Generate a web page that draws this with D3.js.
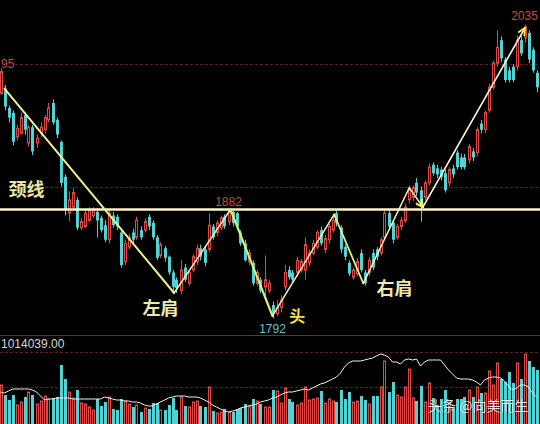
<!DOCTYPE html>
<html>
<head>
<meta charset="utf-8">
<script src="https://cdn.jsdelivr.net/npm/d3@7"></script>
<style>
  html, body { margin: 0; padding: 0; background: #000; overflow: hidden; }
  svg { display: block; }
</style>
</head>
<body>
<svg id="chart" width="540" height="424"></svg>
<script>
// ---- daily OHLC ----
const opens = [
  1978,1982,1966,1962,1942,1945,1960,1937,1950,1937,
  1945,1948,1956,1970,1956,1938,1909,1879,1884,1890,
  1867,1868,1873,1877,1880,1875,1869,1857,1877,1876,
  1863,1839,1851,1863,1859,1865,1865,1876,1871,1859,
  1844,1850,1843,1830,1824,1815,1834,1821,1832,1839,
  1850,1849,1849,1868,1863,1867,1876,1872,1880,1879,
  1863,1854,1839,1838,1821,1824,1818,1815,1803,1796,
  1801,1818,1832,1830,1830,1832,1832,1838,1846,1851,
  1865,1849,1857,1865,1879,1867,1851,1838,1826,1829,
  1846,1830,1830,1846,1849,1846,1859,1879,1871,1859,
  1868,1873,1890,1892,1904,1898,1892,1904,1919,1916,
  1915,1912,1904,1916,1929,1925,1925,1923,1930,1929,
  1953,1948,1964,1983,2003,2022,2006,1997,2000,2000,
  2022,2024,2028,2014,1995
];
const closes = [
  1996,1967,1958,1938,1949,1958,1948,1950,1930,1941,
  1950,1958,1966,1954,1944,1904,1882,1890,1896,1867,
  1872,1879,1882,1882,1873,1865,1857,1879,1869,1868,
  1836,1854,1859,1857,1873,1859,1872,1868,1859,1842,
  1853,1842,1830,1818,1817,1832,1824,1830,1843,1850,
  1843,1838,1869,1859,1871,1875,1868,1880,1871,1868,
  1854,1840,1846,1821,1830,1815,1824,1821,1796,1801,
  1807,1830,1826,1824,1840,1839,1853,1846,1854,1863,
  1854,1858,1868,1873,1871,1849,1843,1829,1832,1839,
  1832,1821,1840,1834,1843,1857,1879,1868,1857,1868,
  1873,1884,1898,1900,1896,1886,1904,1917,1912,1911,
  1909,1898,1915,1911,1917,1917,1917,1934,1925,1948,
  1948,1962,1983,2003,2016,2007,1989,1989,1989,2022,
  2011,2033,2006,1997,1983
];
const highs = [
  1999,1985,1968,1964,1952,1962,1962,1952,1952,1944,
  1954,1960,1970,1973,1958,1939,1911,1897,1900,1892,
  1875,1882,1884,1884,1883,1877,1873,1882,1880,1878,
  1865,1857,1862,1866,1876,1868,1875,1878,1873,1861,
  1855,1852,1844,1832,1826,1840,1837,1832,1845,1853,
  1853,1851,1879,1870,1873,1877,1878,1882,1881,1880,
  1865,1857,1849,1840,1832,1826,1844,1824,1806,1807,
  1811,1836,1835,1832,1843,1841,1859,1849,1857,1865,
  1868,1861,1870,1877,1881,1869,1853,1840,1834,1842,
  1849,1832,1843,1849,1851,1859,1882,1882,1873,1870,
  1876,1887,1902,1902,1908,1901,1906,1920,1921,1919,
  1917,1915,1917,1919,1931,1928,1928,1936,1933,1950,
  1956,1964,1986,2005,2030,2025,2008,2000,2002,2026,
  2026,2035,2030,2016,1997
];
const lows = [
  1977,1964,1954,1935,1939,1944,1944,1934,1927,1933,
  1942,1945,1954,1952,1941,1901,1877,1872,1882,1865,
  1865,1867,1872,1875,1859,1863,1855,1854,1867,1865,
  1834,1836,1849,1854,1857,1857,1863,1865,1857,1840,
  1842,1839,1828,1814,1813,1812,1822,1819,1830,1836,
  1840,1835,1847,1857,1860,1865,1866,1869,1868,1865,
  1852,1839,1836,1819,1819,1813,1807,1813,1792,1794,
  1797,1815,1824,1821,1827,1830,1824,1835,1844,1849,
  1852,1846,1854,1863,1868,1846,1840,1827,1824,1827,
  1830,1819,1827,1832,1840,1844,1857,1865,1854,1857,
  1865,1871,1887,1889,1893,1872,1890,1902,1910,1908,
  1906,1896,1901,1908,1915,1915,1915,1920,1922,1926,
  1945,1945,1962,1981,2000,2004,1987,1987,1987,1997,
  2009,2020,2003,1995,1979
];

// ---- volume and its average line ----
const volumes = [
  390000,290000,240000,290000,190000,220000,270000,320000,290000,200000,
  230000,280000,250000,260000,270000,590000,450000,320000,260000,340000,
  210000,200000,170000,140000,250000,180000,220000,270000,150000,140000,
  250000,230000,200000,170000,190000,120000,160000,150000,210000,210000,
  140000,140000,190000,260000,140000,270000,180000,170000,220000,230000,
  180000,170000,370000,130000,110000,120000,150000,120000,120000,150000,
  160000,200000,180000,250000,230000,200000,170000,170000,340000,330000,
  210000,360000,250000,220000,190000,210000,370000,240000,250000,260000,
  330000,210000,250000,230000,220000,340000,250000,320000,220000,230000,
  280000,240000,200000,280000,280000,370000,630000,320000,420000,290000,
  270000,370000,550000,260000,230000,380000,220000,410000,260000,190000,
  250000,340000,220000,170000,250000,250000,270000,340000,270000,370000,
  310000,310000,530000,390000,610000,450000,420000,520000,410000,610000,
  450000,700000,630000,570000,540000
];
const volumeAvg = [
  320000,310000,330000,350000,350000,350000,350000,350000,340000,320000,
  280000,240000,250000,250000,260000,260000,260000,260000,250000,250000,
  250000,250000,250000,250000,250000,250000,270000,260000,250000,240000,
  240000,230000,230000,220000,220000,210000,190000,180000,180000,200000,
  220000,240000,260000,270000,280000,280000,280000,270000,270000,270000,
  260000,240000,220000,190000,170000,150000,130000,120000,130000,140000,
  160000,170000,180000,190000,200000,220000,230000,240000,260000,270000,
  290000,310000,320000,320000,330000,340000,350000,340000,360000,380000,
  400000,410000,430000,450000,470000,510000,570000,610000,630000,630000,
  630000,640000,650000,660000,680000,700000,690000,670000,620000,620000,
  600000,640000,650000,640000,650000,580000,620000,640000,640000,640000,
  640000,590000,540000,500000,460000,450000,450000,450000,440000,420000,
  390000,440000,460000,470000,470000,460000,430000,380000,340000,360000,
  390000,390000,370000,310000,270000
];
const volumeMax = 1014039;

// ---- reference levels ----
const priceGrid = [2001.95, 1901];
const priceGridLabels = ["95", ""];
const volumeGrid = [720000, 370000];
const neckline = 1882;

// ---- head-and-shoulders trace (bar index, price) ----
const traceIdx   = [1, 43.4, 57.5, 68, 83.4, 90.7, 102.2, 105.6, 131.1];
const tracePrice = [1982, 1813, 1882, 1794, 1878, 1821, 1900, 1884, 2032];
const traceColor = ["#f2f08e", "#f8f2c0", "#d6ee6e", "#f8f0c0", "#e0ef80", "#f8f4c8", "#f8f4c8", "#fffce0"];
const traceWidth = [2, 1.5, 2.2, 1.5, 1.8, 1.5, 1.5, 1.6];

// marked extremes (bar index, price, label)
const marks = [
  { i: 57, p: 1882, text: "1882", pos: "above", color: "#c84848" },
  { i: 68, p: 1792, text: "1792", pos: "below", color: "#5cc4c8" },
  { i: 131, p: 2035, text: "2035", pos: "above", color: "#c84848" }
];

// pattern names
const patternLabels = [
  { text: "颈线", i: 2, p: 1893, size: 18, color: "#efe6a2" },
  { text: "左肩", i: 35.5, p: 1795, size: 18, color: "#f0e8aa" },
  { text: "头", i: 72.2, p: 1789, size: 16, color: "#f2e24a" },
  { text: "右肩", i: 94, p: 1811, size: 18, color: "#f0e8aa" }
];

const N = opens.length;
const W = 540, H = 424;
const UP = "#e04848", DOWN = "#52d2d4";

const svg = d3.select("#chart");
svg.append("rect").attr("width", W).attr("height", H).attr("fill", "#000");

// bar centres
const x = d3.scaleLinear().domain([-0.5, N - 0.5]).range([-1.5, 538.5]);
const y = d3.scaleLinear().domain([1792, 2035]).range([318.4, 24.4]);
const yv = d3.scaleLinear().domain([0, volumeMax]).range([424, 424 - 101.4039]);

const isUp = i => closes[i] >= opens[i];

// ---- grid lines ----
const grid = svg.append("g");
grid.selectAll("line.pg").data(priceGrid).join("line")
  .attr("x1", 15).attr("x2", W)
  .attr("y1", d => Math.round(y(d)) + 0.5).attr("y2", d => Math.round(y(d)) + 0.5)
  .attr("stroke", "#5e2222").attr("stroke-width", 1).attr("stroke-dasharray", "3,2");
grid.selectAll("text.pg").data(priceGrid).join("text")
  .attr("x", 1).attr("y", d => Math.round(y(d)) + 4)
  .attr("font-family", "Liberation Sans, Arial, sans-serif").attr("font-size", 12)
  .attr("fill", "#c84848")
  .text((d, k) => priceGridLabels[k]);

grid.selectAll("line.vg").data(volumeGrid).join("line")
  .attr("x1", 0).attr("x2", W)
  .attr("y1", d => Math.round(yv(d)) + 0.5).attr("y2", d => Math.round(yv(d)) + 0.5)
  .attr("stroke", "#5e2222").attr("stroke-width", 1).attr("stroke-dasharray", "3,2");

// pane separator
svg.append("line").attr("x1", 0).attr("x2", W).attr("y1", 335.5).attr("y2", 335.5)
  .attr("stroke", "#7e2a2a").attr("stroke-width", 1);

// ---- candles ----
const candles = svg.append("g").selectAll("g").data(d3.range(N)).join("g");
candles.each(function (i) {
  const g = d3.select(this);
  const cx = Math.round(x(i)) + 0.5;
  const col = isUp(i) ? UP : DOWN;
  const top = y(Math.max(opens[i], closes[i]));
  const bot = y(Math.min(opens[i], closes[i]));
  g.append("line").attr("x1", cx).attr("x2", cx)
    .attr("y1", y(highs[i])).attr("y2", y(lows[i]))
    .attr("stroke", col).attr("stroke-width", 1);
  if (isUp(i)) {
    g.append("rect").attr("x", cx - 1).attr("width", 2)
      .attr("y", top).attr("height", Math.max(1, bot - top))
      .attr("fill", "#000").attr("stroke", col).attr("stroke-width", 1);
  } else {
    g.append("rect").attr("x", cx - 1.5).attr("width", 3)
      .attr("y", top).attr("height", Math.max(1, bot - top))
      .attr("fill", col);
  }
});

// ---- volume bars ----
svg.append("g").selectAll("rect").data(d3.range(N)).join("rect")
  .attr("x", i => Math.round(x(i)) + 0.5 - (isUp(i) ? 1 : 1.5))
  .attr("width", i => isUp(i) ? 2 : 3)
  .attr("y", i => yv(volumes[i]))
  .attr("height", i => 424 - yv(volumes[i]) + 2)
  .attr("fill", i => isUp(i) ? "#000" : DOWN)
  .attr("stroke", i => isUp(i) ? UP : "none")
  .attr("stroke-width", 1);

svg.append("path")
  .datum(d3.range(N))
  .attr("d", d3.line().x(i => x(i)).y(i => yv(volumeAvg[i])))
  .attr("fill", "none").attr("stroke", "#f2f2f2").attr("stroke-width", 1);

svg.append("text")
  .attr("x", 1).attr("y", 348)
  .attr("font-family", "Liberation Sans, Arial, sans-serif").attr("font-size", 12)
  .attr("fill", "#d8d8d8")
  .text(d3.format(".2f")(volumeMax));

// ---- neckline ----
svg.append("line").attr("x1", 0).attr("x2", W)
  .attr("y1", y(neckline)).attr("y2", y(neckline))
  .attr("stroke", "#fbf5c8").attr("stroke-width", 2.6);

// ---- trace with arrow heads ----
const defs = svg.append("defs");
function arrow(id, color) {
  defs.append("marker").attr("id", id)
    .attr("viewBox", "0 0 10 10").attr("refX", 9).attr("refY", 5)
    .attr("markerWidth", 9).attr("markerHeight", 9)
    .attr("markerUnits", "userSpaceOnUse").attr("orient", "auto")
    .append("path").attr("d", "M1,1 L9,5 L1,9")
    .attr("fill", "none").attr("stroke", color).attr("stroke-width", 2.2)
    .attr("stroke-linejoin", "miter");
}
arrow("arrowA", "#ffff3c");
arrow("arrowB", "#ffee44");

const trace = svg.append("g").attr("stroke-linecap", "round");
for (let k = 0; k < traceIdx.length - 1; k++) {
  const ln = trace.append("line")
    .attr("x1", x(traceIdx[k])).attr("y1", y(tracePrice[k]))
    .attr("x2", x(traceIdx[k + 1])).attr("y2", y(tracePrice[k + 1]))
    .attr("stroke", traceColor[k]).attr("stroke-width", traceWidth[k]);
  if (k === 6) ln.attr("marker-end", "url(#arrowA)");
  if (k === 7) ln.attr("marker-end", "url(#arrowB)");
}

// ---- value labels ----
svg.append("g").selectAll("text").data(marks).join("text")
  .attr("x", d => x(d.i))
  .attr("y", d => d.pos === "above" ? y(d.p) - 4 : y(d.p) + 15)
  .attr("text-anchor", "middle")
  .attr("font-family", "Liberation Sans, Arial, sans-serif").attr("font-size", 12)
  .attr("fill", d => d.color)
  .text(d => d.text);

// ---- pattern names ----
svg.append("g").selectAll("text").data(patternLabels).join("text")
  .attr("x", d => x(d.i))
  .attr("y", d => y(d.p))
  .attr("font-family", "Noto Sans CJK SC, sans-serif")
  .attr("font-weight", 700)
  .attr("font-size", d => d.size)
  .attr("fill", d => d.color)
  .text(d => d.text);

// ---- watermark ----
svg.append("text")
  .attr("x", 428).attr("y", 411)
  .attr("font-family", "Noto Sans CJK SC, sans-serif").attr("font-size", 14)
  .attr("fill", "rgba(255,255,255,0.88)")
  .attr("stroke", "rgba(0,0,0,0.35)").attr("stroke-width", 0.6)
  .attr("paint-order", "stroke")
  .text("头条 @向美而生");
</script>
</body>
</html>
